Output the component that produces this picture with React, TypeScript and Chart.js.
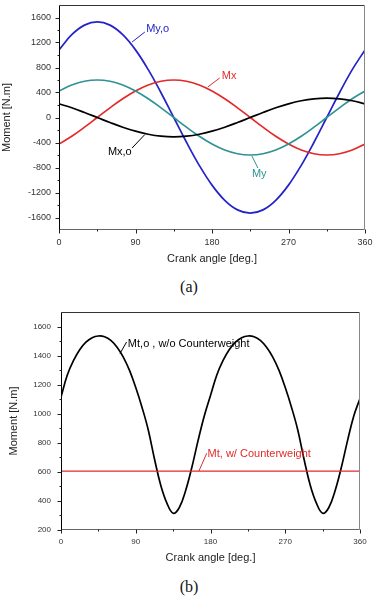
import React, { useEffect, useRef } from "react";
import { Chart, registerables } from "chart.js";

Chart.register(...registerables);

// ---------- Data ----------
const ANGLES_A = [0, 15, 30, 45, 60, 75, 90, 105, 120, 135, 150, 165, 180, 195, 210, 225, 240, 255, 270, 285, 300, 315, 330, 345, 360];
const MY_O = [1082, 1325, 1478, 1530, 1478, 1325, 1082, 765, 396, 0, -396, -765, -1082, -1325, -1478, -1530, -1478, -1325, -1082, -765, -396, 0, 396, 765, 1082];
const MX = [-424, -300, -155, 0, 155, 300, 424, 520, 580, 600, 580, 520, 424, 300, 155, 0, -155, -300, -424, -520, -580, -600, -580, -520, -424];
const MY = [424, 520, 580, 600, 580, 520, 424, 300, 155, 0, -155, -300, -424, -520, -580, -600, -580, -520, -424, -300, -155, 0, 155, 300, 424];
const MX_O = [219, 155, 80, 0, -80, -155, -219, -268, -299, -310, -299, -268, -219, -155, -80, 0, 80, 155, 219, 268, 299, 310, 299, 268, 219];

const ANGLES_B = [0, 7.5, 15, 22.5, 30, 37.5, 45, 52.5, 60, 67.5, 75, 82.5, 90, 97.5, 105, 112.5, 120, 127.5, 135, 142.5, 150, 157.5, 165, 172.5, 180,
  187.5, 195, 202.5, 210, 217.5, 225, 232.5, 240, 247.5, 255, 262.5, 270, 277.5, 285, 292.5, 300, 307.5, 315, 322.5, 330, 337.5, 345, 352.5, 360];
const MT_O = [1115, 1265, 1365, 1440, 1492, 1523, 1535, 1530, 1505, 1458, 1390, 1298, 1180, 1045, 890, 690, 510, 385, 315, 355, 470, 630, 815, 985, 1125,
  1265, 1365, 1440, 1492, 1523, 1535, 1530, 1505, 1458, 1390, 1298, 1180, 1045, 890, 690, 510, 385, 315, 355, 470, 630, 815, 985, 1105];
const MT_X = [0, 360];
const MT = [605, 605];

const X_TICKS = [0, 90, 180, 270, 360];
const X_MINOR = [45, 135, 225, 315];
const Y_TICKS_A = [-1600, -1200, -800, -400, 0, 400, 800, 1200, 1600];
const Y_MINOR_A = [-1400, -1000, -600, -200, 200, 600, 1000, 1400];
const Y_TICKS_B = [200, 400, 600, 800, 1000, 1200, 1400, 1600];
const Y_MINOR_B = [300, 500, 700, 900, 1100, 1300, 1500];

// ---------- Styles ----------
const SANS = '"Liberation Sans", Arial, sans-serif';
const BLUE = "#2323c8";
const RED = "#e22a2a";
const TEAL = "#2f9393";
const BLACK = "#000000";

const pts = (xs: number[], ys: number[]) => xs.map((x, i) => ({ x, y: ys[i] }));

const framePlugin = {
  id: "frame",
  afterDatasetsDraw(chart: any, _args: any, opts: any) {
    const { ctx, chartArea: a, scales } = chart;
    const xs = scales.x;
    const ys = scales.y;
    const L = Math.round(a.left) + 0.5;
    const R = Math.round(a.right) - 0.5;
    const T = Math.round(a.top) + 0.5;
    const B = Math.round(a.bottom) - 0.5;
    ctx.save();
    ctx.lineWidth = 1;
    ctx.strokeStyle = "#333";
    ctx.beginPath(); ctx.moveTo(L, T); ctx.lineTo(R, T); ctx.stroke();
    ctx.strokeStyle = "#888";
    ctx.beginPath(); ctx.moveTo(R, T); ctx.lineTo(R, B); ctx.stroke();
    ctx.strokeStyle = "#666";
    ctx.beginPath(); ctx.moveTo(L, B); ctx.lineTo(R, B); ctx.stroke();
    ctx.strokeStyle = "#000";
    ctx.beginPath(); ctx.moveTo(L, T); ctx.lineTo(L, B + 0.5); ctx.stroke();
    ctx.strokeStyle = "#222";
    const yTick = (v: number, len: number) => {
      const p = Math.round(ys.getPixelForValue(v)) + 0.5;
      ctx.beginPath(); ctx.moveTo(L - len, p); ctx.lineTo(L, p); ctx.stroke();
    };
    const xTick = (v: number, len: number) => {
      const p = Math.round(xs.getPixelForValue(v)) + 0.5;
      ctx.beginPath(); ctx.moveTo(p, B); ctx.lineTo(p, B + len); ctx.stroke();
    };
    opts.yTicks.forEach((v: number) => yTick(v, opts.major));
    opts.yMinor.forEach((v: number) => yTick(v, opts.minor));
    X_TICKS.forEach((v) => xTick(v, opts.major));
    X_MINOR.forEach((v) => xTick(v, opts.minor));
    ctx.font = `${opts.annFont}px ${SANS}`;
    ctx.textAlign = "left";
    ctx.textBaseline = "middle";
    for (const an of opts.annotations) {
      ctx.strokeStyle = an.color;
      ctx.fillStyle = an.color;
      ctx.beginPath();
      ctx.moveTo(xs.getPixelForValue(an.l[0]), ys.getPixelForValue(an.l[1]));
      ctx.lineTo(xs.getPixelForValue(an.l[2]), ys.getPixelForValue(an.l[3]));
      ctx.stroke();
      ctx.fillText(an.text, xs.getPixelForValue(an.t[0]), ys.getPixelForValue(an.t[1]));
    }
    ctx.restore();
  },
};

function buildConfig(spec: any) {
  return {
    type: "line",
    data: { datasets: spec.datasets },
    plugins: [framePlugin],
    options: {
      responsive: false,
      animation: false,
      events: [],
      layout: { padding: spec.pad },
      elements: { point: { radius: 0 }, line: { tension: 0.4 } },
      plugins: {
        legend: { display: false },
        tooltip: { enabled: false },
        frame: {
          yTicks: spec.yTicks,
          yMinor: spec.yMinor,
          major: 4,
          minor: 2,
          annFont: spec.annFont,
          annotations: spec.annotations,
        },
      },
      scales: {
        x: {
          type: "linear",
          min: 0,
          max: 360,
          grid: { display: false, drawTicks: false },
          border: { display: false },
          afterBuildTicks: (s: any) => { s.ticks = X_TICKS.map((v) => ({ value: v })); },
          afterFit: (s: any) => {
            s.height = spec.xHeight;
            s.paddingLeft = 0; s.paddingRight = 0; s.paddingTop = 0; s.paddingBottom = 0;
          },
          ticks: {
            padding: spec.xTickPad,
            maxRotation: 0,
            autoSkip: false,
            color: "#333",
            font: { family: SANS, size: spec.tickFont },
            callback: (v: any) => String(v),
          },
          title: {
            display: true,
            text: "Crank angle [deg.]",
            color: "#222",
            font: { family: SANS, size: 11 },
            padding: { top: 0, bottom: spec.xTitlePad },
          },
        },
        y: {
          type: "linear",
          min: spec.yMin,
          max: spec.yMax,
          grid: { display: false, drawTicks: false },
          border: { display: false },
          afterBuildTicks: (s: any) => { s.ticks = spec.yTicks.map((v: number) => ({ value: v })); },
          afterFit: (s: any) => {
            s.width = spec.yWidth;
            s.paddingLeft = 0; s.paddingRight = 0; s.paddingTop = 0; s.paddingBottom = 0;
          },
          ticks: {
            padding: spec.yTickPad,
            autoSkip: false,
            color: "#333",
            font: { family: SANS, size: spec.tickFont },
            callback: (v: any) => String(v),
          },
          title: {
            display: true,
            text: "Moment [N.m]",
            color: "#222",
            font: { family: SANS, size: 11 },
            padding: { top: spec.yTitlePad, bottom: 0 },
          },
        },
      },
    },
  };
}

const lineDs = (data: any, color: string, width: number) => ({
  data,
  borderColor: color,
  backgroundColor: color,
  borderWidth: width,
  pointRadius: 0,
  fill: false,
});

const SPEC_A = {
  pad: { left: 0, right: 13, top: 5, bottom: 0 },
  yWidth: 59,
  xHeight: 40,
  yMin: -1800,
  yMax: 1800,
  yTicks: Y_TICKS_A,
  yMinor: Y_MINOR_A,
  tickFont: 9,
  xTickPad: 7,
  yTickPad: 8,
  xTitlePad: 4.4,
  yTitlePad: 0.5,
  annFont: 11,
  datasets: [
    lineDs(pts(ANGLES_A, MX_O), BLACK, 1.7),
    lineDs(pts(ANGLES_A, MY), TEAL, 1.7),
    lineDs(pts(ANGLES_A, MX), RED, 1.7),
    lineDs(pts(ANGLES_A, MY_O), BLUE, 1.7),
  ],
  annotations: [
    { text: "My,o", color: BLUE, l: [86, 1208, 101, 1368], t: [102.5, 1416] },
    { text: "Mx", color: RED, l: [175, 488, 189, 632], t: [191.5, 664] },
    { text: "Mx,o", color: BLACK, l: [101, -272, 86, -488], t: [57.5, -548] },
    { text: "My", color: TEAL, l: [227, -616, 234, -808], t: [227, -904] },
  ],
};

const SPEC_B = {
  pad: { left: 0, right: 18, top: 12, bottom: 0 },
  yWidth: 61,
  xHeight: 40,
  yMin: 200,
  yMax: 1700,
  yTicks: Y_TICKS_B,
  yMinor: Y_MINOR_B,
  tickFont: 8,
  xTickPad: 7,
  yTickPad: 10,
  xTitlePad: 5.4,
  yTitlePad: 7,
  annFont: 11,
  datasets: [
    lineDs(pts(MT_X, MT), RED, 1.2),
    lineDs(pts(ANGLES_B, MT_O), BLACK, 1.7),
  ],
  annotations: [
    { text: "Mt,o , w/o Counterweight", color: BLACK, l: [71, 1414, 79, 1494], t: [80.5, 1482] },
    { text: "Mt, w/ Counterweight", color: RED, l: [166, 605, 175.5, 728], t: [176.5, 724] },
  ],
};

function ChartCanvas({ spec, top }: { spec: any; top: number }) {
  const ref = useRef<HTMLCanvasElement | null>(null);
  useEffect(() => {
    if (!ref.current) return;
    const chart = new Chart(ref.current, buildConfig(spec) as any);
    return () => chart.destroy();
  }, [spec]);
  return (
    <canvas
      ref={ref}
      width={378}
      height={270}
      style={{ position: "absolute", left: 0, top, width: 378, height: 270, display: "block" }}
    />
  );
}

const captionStyle = (top: number): React.CSSProperties => ({
  position: "absolute",
  left: 0,
  top,
  width: 378,
  textAlign: "center",
  fontFamily: '"Liberation Serif", "Times New Roman", serif',
  fontSize: 16,
  lineHeight: "20px",
  color: "#111",
});

export default function App() {
  return (
    <div style={{ position: "absolute", left: 0, top: 0, width: 378, height: 601, background: "#fff", overflow: "hidden" }}>
      <ChartCanvas spec={SPEC_A} top={0} />
      <div style={captionStyle(277)}>(a)</div>
      <ChartCanvas spec={SPEC_B} top={300} />
      <div style={captionStyle(577)}>(b)</div>
    </div>
  );
}
